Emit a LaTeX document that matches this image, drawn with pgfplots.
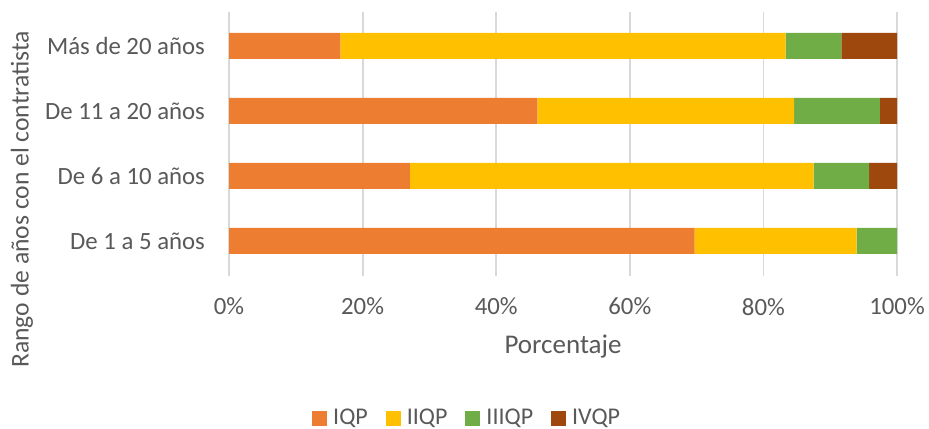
\documentclass[border=0pt]{standalone}
\usepackage{pgfplots}
\pgfplotsset{compat=1.18}
\usepackage{fontspec}
\setmainfont{Carlito}
\definecolor{cIQP}{HTML}{ED7D31}
\definecolor{cIIQP}{HTML}{FFC000}
\definecolor{cIIIQP}{HTML}{70AD47}
\definecolor{cIVQP}{HTML}{9E480E}
\definecolor{txt}{HTML}{595959}
\definecolor{gridc}{HTML}{D9D9D9}
\begin{document}
\begin{tikzpicture}
\begin{axis}[
    at={(114.5pt,-138pt)}, anchor=south west,
    width=334pt, height=132pt, scale only axis,
    xbar stacked, bar width=13pt,
    xmin=0, xmax=100,
    ymin=-0.54, ymax=3.52,
    xtick={0,20,...,100},
    xticklabel={\pgfmathprintnumber{\tick}\%},
    ytick={0,1,2,3},
    yticklabels={De 1 a 5 años, De 6 a 10 años, De 11 a 20 años, Más de 20 años},
    /pgf/number format/assume math mode=true,
    xmajorgrids, grid style={gridc, line width=0.9pt},
    axis line style={draw=none},
    major tick length=0pt,
    tick label style={font=\fontsize{12.4}{14}\selectfont, text=txt},
    xticklabel style={yshift=-7.5pt},
    yticklabel style={xshift=-8.5pt},
    xlabel={Porcentaje},
    ylabel={Rango de años con el contratista},
    xlabel style={font=\fontsize{13.5}{16}\selectfont, text=txt,
        at={(axis description cs:0.5,-0.266)}, anchor=center},
    ylabel style={font=\fontsize{12.8}{15}\selectfont, text=txt,
        at={(axis description cs:-0.31,0.29)}, anchor=center},
    legend columns=-1,
    legend style={draw=none, font=\fontsize{12}{14}\selectfont, text=txt,
        at={(axis description cs:0.358,-0.538)}, anchor=center,
        /tikz/every odd column/.append style={column sep=1pt},
        /tikz/every even column/.append style={column sep=7pt}},
    legend image code/.code={\fill[#1] (0pt,-3.75pt) rectangle (7.5pt,3.75pt);},
]
\addplot[fill=cIQP, draw=none] coordinates {(69.7,0) (27.08,1) (46.15,2) (16.67,3)};
\addplot[fill=cIIQP, draw=none] coordinates {(24.24,0) (60.42,1) (38.46,2) (66.67,3)};
\addplot[fill=cIIIQP, draw=none] coordinates {(6.06,0) (8.33,1) (12.82,2) (8.33,3)};
\addplot[fill=cIVQP, draw=none] coordinates {(0,0) (4.17,1) (2.57,2) (8.33,3)};
\legend{IQP, IIQP, IIIQP, IVQP}
\end{axis}
\pgfresetboundingbox
\useasboundingbox (0,0) rectangle (464.5pt,-214pt);
\end{tikzpicture}
\end{document}
